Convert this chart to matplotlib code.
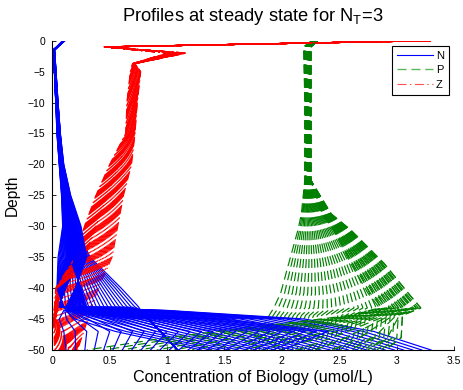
import numpy as np
import matplotlib
matplotlib.use('Agg')
import matplotlib.pyplot as plt
from matplotlib.lines import Line2D

# depth nodes and anchor profiles for each tracer
depth_n = [0, -1.5, -10, -15, -20, -25, -30, -35, -40, -43, -43.6, -45, -47, -50]
n_fan_a = [0.11, 0.02, 0.05, 0.07, 0.09, 0.13, 0.20, 0.33, 0.60, 0.75, 0.77, 0.84, 0.94, 1.09]
n_fan_b = [0.09, 0.01, 0.03, 0.05, 0.07, 0.09, 0.12, 0.12, 0.05, 0.05, 0.77, 0.84, 0.94, 1.09]
n_deep_a = [0.10, 0.01, 0.04, 0.06, 0.08, 0.12, 0.17, 0.24, 0.12, 0.05, 1.00, 2.20, 2.80, 3.30]
n_deep_b = [0.10, 0.01, 0.03, 0.04, 0.06, 0.08, 0.09, 0.05, 0.04, 0.10, 0.12, 0.20, 0.55, 1.30]
n_low_a = [0.10, 0.01, 0.03, 0.05, 0.07, 0.10, 0.13, 0.15, 0.25, 0.30, 0.10, 0.06, 0.10, 0.12]
n_low_b = [0.10, 0.02, 0.05, 0.07, 0.10, 0.16, 0.25, 0.30, 0.20, 0.12, 0.30, 1.50, 2.40, 2.00]

depth_p = [0, -1, -10, -22.5, -28, -30.6, -36, -40.8, -43.2, -44.4, -48, -50]
p_a = [2.26, 2.19, 2.20, 2.20, 2.17, 2.14, 2.06, 1.99, 1.93, 1.89, 1.78, 1.73]
p_b = [2.31, 2.25, 2.25, 2.25, 2.43, 2.60, 2.89, 3.10, 3.21, 3.05, 3.04, 2.90]
p_c = [2.31, 2.25, 2.25, 2.25, 2.35, 2.45, 2.60, 2.75, 2.85, 2.60, 1.00, 0.30]

depth_z = [0, -1, -2, -3.7, -5, -10, -15, -20, -25, -30, -35, -40, -45, -50]
z_a = [3.30, 0.45, 1.17, 0.72, 0.77, 0.74, 0.72, 0.69, 0.62, 0.57, 0.52, 0.40, 0.31, 0.22]
z_b = [3.28, 0.46, 1.08, 0.71, 0.72, 0.70, 0.68, 0.58, 0.48, 0.38, 0.28, 0.08, 0.03, 0.15]
z_c = [3.26, 0.45, 1.00, 0.70, 0.68, 0.65, 0.64, 0.50, 0.38, 0.28, 0.20, 0.03, 0.01, 0.02]

# (start profile, end profile, number of profiles) for every group
n_groups = [(n_fan_a, n_fan_b, 22), (n_deep_a, n_deep_b, 26), (n_low_a, n_low_b, 24)]
p_groups = [(p_a, p_b, 34), (p_b, p_c, 18)]
z_groups = [(z_a, z_b, 26), (z_b, z_c, 26)]


def profiles(groups):
    out = []
    for a, b, n in groups:
        a = np.asarray(a)
        b = np.asarray(b)
        for w in np.linspace(0, 1, n):
            out.append(a + (b - a) * w)
    return out


plt.rcParams['font.family'] = ['Liberation Sans', 'DejaVu Sans']
plt.rcParams['mathtext.fontset'] = 'custom'
plt.rcParams['mathtext.rm'] = 'Liberation Sans'
plt.rcParams['mathtext.it'] = 'Liberation Sans'
plt.rcParams['lines.scale_dashes'] = False

fig = plt.figure(figsize=(4.63, 3.9), dpi=100)
ax = fig.add_axes([0.1130, 0.1026, 0.8676, 0.7930])

N = profiles(n_groups)
P = profiles(p_groups)
Z = profiles(z_groups)

green = (0, 0.5, 0)
lw = 0.85
# interleave the three tracers so none of them sits fully on top
for k in range(max(len(N), len(P), len(Z))):
    if k < len(N):
        ax.plot(N[k], depth_n, '-', color='b', lw=lw)
    if k < len(P):
        ax.plot(P[k], depth_p, '--', color=green, lw=lw, dashes=(6.5, 3.5))
    if k < len(Z):
        ax.plot(Z[k], depth_z, '-.', color='r', lw=lw, dashes=(6.5, 2.5, 1, 2.5))

handles = [Line2D([], [], color='b', lw=0.8),
           Line2D([], [], color='#5cb85c', lw=1.0, dashes=(6.5, 3.5)),
           Line2D([], [], color='#ff5050', lw=0.8, dashes=(6.5, 2.5, 1, 2.5))]
leg = ax.legend(handles, ['N', 'P', 'Z'], loc='upper right', fontsize=8,
                frameon=True, fancybox=False, borderaxespad=0.45,
                handlelength=3.2, labelspacing=0.4, handletextpad=0.3,
                borderpad=0.45, framealpha=1)
leg.get_frame().set_edgecolor('k')
leg.get_frame().set_linewidth(0.8)

ax.set_xlim(0, 3.5)
ax.set_ylim(-50, 0)
ax.set_xticks(np.arange(0, 3.51, 0.5))
ax.set_xticklabels(['0', '0.5', '1', '1.5', '2', '2.5', '3', '3.5'])
ax.set_yticks(np.arange(-50, 1, 5))
ax.spines['top'].set_visible(False)
ax.spines['right'].set_visible(False)
ax.tick_params(direction='in', length=3, labelsize=7.5, width=0.6)
ax.tick_params(axis='x', pad=4)
ax.tick_params(axis='y', pad=5)

ax.set_title(r'Profiles at steady state for N$_\mathrm{T}$=3', fontsize=13.2, pad=14)
ax.set_xlabel('Concentration of Biology (umol/L)', fontsize=11.6, labelpad=3)
ax.set_ylabel('Depth', fontsize=11.2, labelpad=6)

fig.savefig('out.png', dpi=100)
